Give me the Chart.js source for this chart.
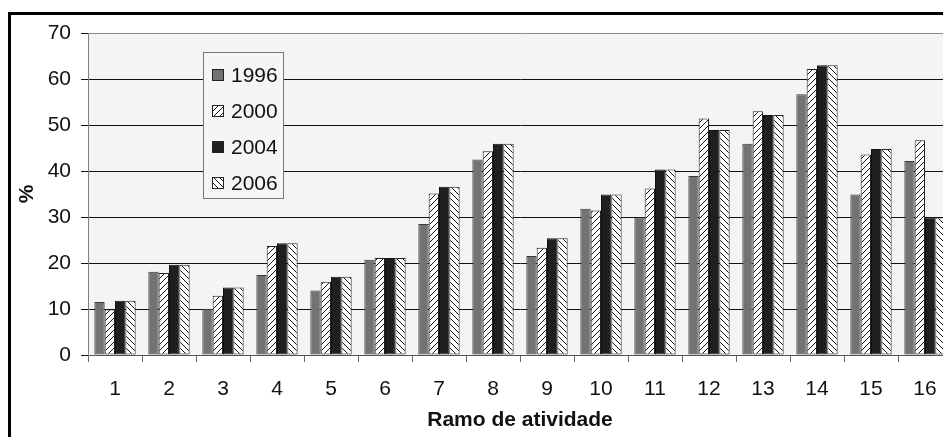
<!DOCTYPE html>
<html>
<head>
<meta charset="utf-8">
<script src="https://cdn.jsdelivr.net/npm/chart.js@4/dist/chart.umd.min.js"></script>
<style>
  html, body { margin: 0; padding: 0; background: #fff; overflow: hidden; }
  #wrap { position: absolute; left: 0; top: 0; width: 970px; height: 437px; }
</style>
</head>
<body>
<div id="wrap"><canvas id="c" width="970" height="437"></canvas></div>
<script>
// Ramos de atividade (1..16) e percentagens por ano
const categories = ['1','2','3','4','5','6','7','8','9','10','11','12','13','14','15','16'];
const years = ['1996', '2000', '2004', '2006'];
const v1996 = [11.5, 18.1, 10.0, 17.4, 14.0, 20.7, 28.5, 42.5, 21.5, 31.8, 29.9, 38.9, 45.9, 56.7, 34.9, 42.2];
const v2000 = [ 9.9, 17.8, 12.9, 23.7, 15.9, 21.1, 35.1, 44.3, 23.3, 31.4, 36.2, 51.4, 53.0, 62.2, 43.6, 46.7];
const v2004 = [11.8, 19.6, 14.7, 24.3, 17.0, 21.1, 36.6, 45.9, 25.4, 34.9, 40.3, 48.9, 52.2, 63.0, 44.8, 29.9];
const v2006 = [11.8, 19.6, 14.7, 24.3, 17.0, 21.1, 36.6, 45.9, 25.4, 34.9, 40.3, 48.9, 52.2, 63.0, 44.8, 29.9];
const yTicks = [0, 10, 20, 30, 40, 50, 60, 70];

const FONT = "'Liberation Sans', Arial, sans-serif";

// diagonal hatch fill: dir = 1 for "/", -1 for "\"
function hatch(dir) {
  const s = 6;
  const c = document.createElement('canvas');
  c.width = s; c.height = s;
  const g = c.getContext('2d');
  g.fillStyle = '#ffffff';
  g.fillRect(0, 0, s, s);
  g.strokeStyle = '#111';
  g.lineWidth = 1;
  g.beginPath();
  if (dir > 0) {
    g.moveTo(0, s); g.lineTo(s, 0);
    g.moveTo(-1, 1); g.lineTo(1, -1);
    g.moveTo(s - 1, s + 1); g.lineTo(s + 1, s - 1);
  } else {
    g.moveTo(0, 0); g.lineTo(s, s);
    g.moveTo(-1, s - 1); g.lineTo(1, s + 1);
    g.moveTo(s - 1, -1); g.lineTo(s + 1, 1);
  }
  g.stroke();
  return g.createPattern(c, 'repeat');
}

const ctx = document.getElementById('c').getContext('2d');

// page frame + plot-area background
const framePlugin = {
  id: 'frame',
  beforeDraw(chart) {
    const g = chart.ctx, a = chart.chartArea;
    g.save();
    g.fillStyle = '#ffffff';
    g.fillRect(0, 0, chart.width, chart.height);
    g.fillStyle = '#f4f4f4';
    g.fillRect(a.left, a.top, a.right - a.left, a.bottom - a.top);
    g.strokeStyle = '#000';
    g.lineWidth = 3;
    g.beginPath();
    g.moveTo(9.5, chart.height + 5);
    g.lineTo(9.5, 13.5);
    g.lineTo(chart.width + 5, 13.5);
    g.stroke();
    g.restore();
  }
};

// boxed legend inside the plot area
const boxLegend = {
  id: 'boxLegend',
  afterDatasetsDraw(chart) {
    const g = chart.ctx, a = chart.chartArea;
    const x = a.left + 115, y = a.top + 19, w = 80, h = 146;
    g.save();
    g.fillStyle = '#f5f5f5';
    g.fillRect(x, y, w, h);
    g.strokeStyle = '#777';
    g.lineWidth = 1;
    g.strokeRect(x + 0.5, y + 0.5, w, h);
    g.font = '21px ' + FONT;
    g.textBaseline = 'middle';
    g.textAlign = 'left';
    chart.data.datasets.forEach((ds, i) => {
      const cy = y + 23 + i * 36;
      g.fillStyle = ds.backgroundColor;
      g.fillRect(x + 9, cy - 6, 11, 11);
      g.strokeStyle = '#222';
      g.strokeRect(x + 9.5, cy - 5.5, 11, 11);
      g.fillStyle = '#111';
      g.fillText(ds.label, x + 28, cy + 1);
    });
    g.restore();
  }
};

new Chart(ctx, {
  type: 'bar',
  data: {
    labels: categories,
    datasets: [
      { label: years[0], data: v1996, backgroundColor: '#737373', borderColor: '#3a3a3a' },
      { label: years[1], data: v2000, backgroundColor: hatch(1), borderColor: '#222' },
      { label: years[2], data: v2004, backgroundColor: '#1f1f1f', borderColor: '#111' },
      { label: years[3], data: v2006, backgroundColor: hatch(-1), borderColor: '#222' }
    ]
  },
  options: {
    responsive: false,
    animation: false,
    devicePixelRatio: 1,
    layout: { padding: { left: 0, top: 33, right: 18, bottom: 0 } },
    datasets: {
      bar: { borderWidth: 1, categoryPercentage: 0.765, barPercentage: 1.0, borderSkipped: false }
    },
    plugins: {
      legend: { display: false },
      tooltip: { enabled: false }
    },
    scales: {
      x: {
        afterFit(s) { s.height = 82; },
        grid: {
          offset: true,
          drawOnChartArea: false,
          drawTicks: true,
          tickLength: 7,
          tickColor: '#666'
        },
        border: { display: true, color: '#555', width: 1 },
        ticks: {
          autoSkip: false, maxRotation: 0, minRotation: 0,
          padding: 15,
          color: '#111',
          font: { family: FONT, size: 21 }
        },
        title: {
          display: true,
          text: 'Ramo de atividade',
          color: '#111',
          font: { family: FONT, size: 21, weight: 'bold' },
          padding: { top: 0, bottom: 4 }
        }
      },
      y: {
        min: 0, max: 70,
        afterFit(s) { s.width = 88; },
        afterBuildTicks(s) { s.ticks = yTicks.map(v => ({ value: v })); },
        grid: {
          color: c => (c.tick && c.tick.value === 70) ? '#8a8a8a' : '#111',
          lineWidth: 1,
          drawTicks: true,
          tickLength: 7,
          tickColor: '#111'
        },
        border: { display: true, color: '#808080', width: 1 },
        ticks: {
          padding: 10,
          color: '#111',
          font: { family: FONT, size: 21 }
        },
        title: {
          display: true,
          text: '%',
          color: '#111',
          font: { family: FONT, size: 21, weight: 'bold' },
          padding: { top: 15, bottom: 0 }
        }
      }
    }
  },
  plugins: [framePlugin, boxLegend]
});
</script>
</body>
</html>
